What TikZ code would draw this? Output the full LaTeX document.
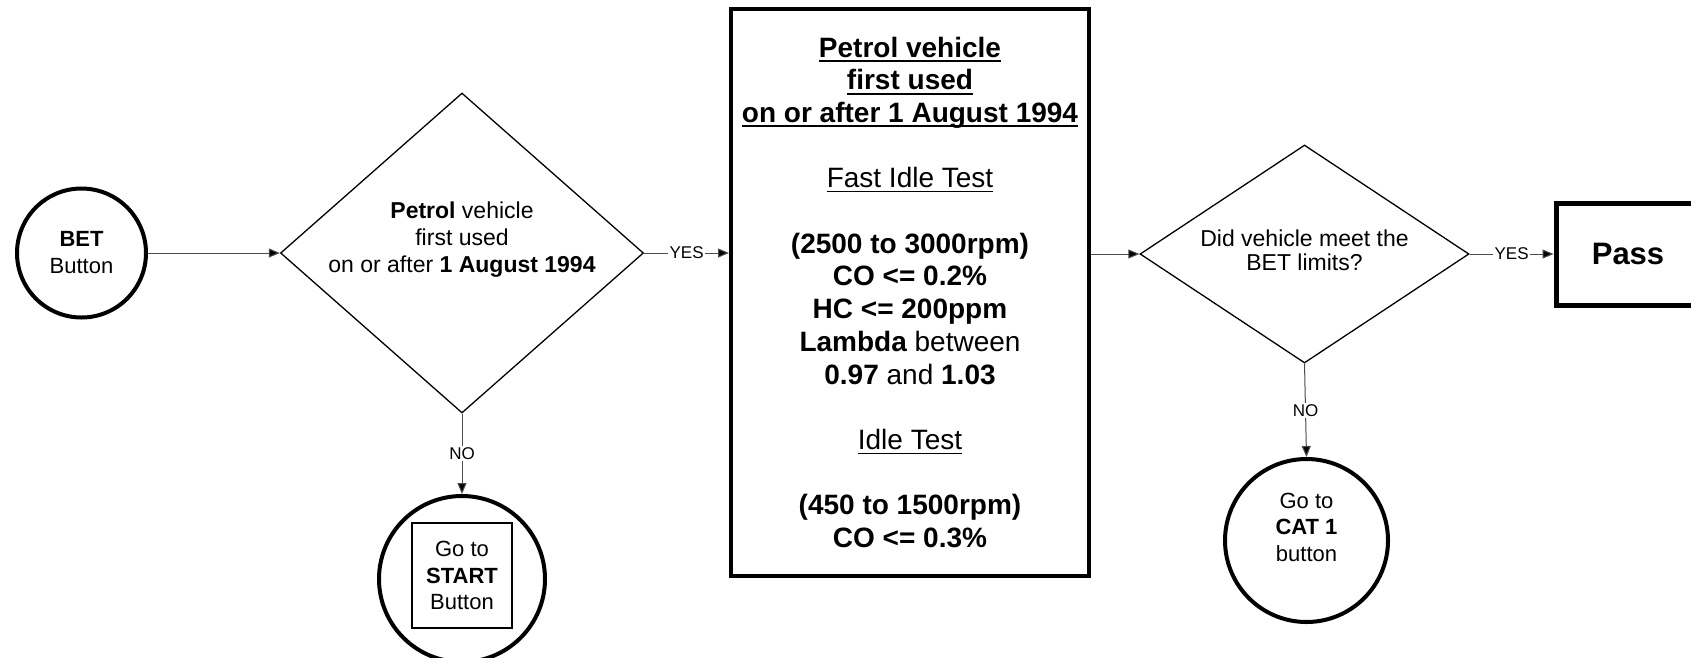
\documentclass[tikz,border=0pt]{standalone}
\usepackage{fontspec}
\setmainfont{Liberation Sans}
\usetikzlibrary{shapes.geometric,arrows.meta}
\newcommand\myul[1]{\setbox0\hbox{#1}\rlap{\rule[-5pt]{\wd0}{2pt}}\box0}
\newcommand\myulthin[1]{\setbox0\hbox{#1}\rlap{\rule[-4.5pt]{\wd0}{1.4pt}}\box0}
\tikzset{
  thickcircle/.style={circle, draw=black, line width=4pt, inner sep=0pt, align=center,
    font=\fontsize{22}{27}\selectfont},
  dia/.style={diamond, draw=black, line width=1.3pt, inner sep=0pt},
  diatext/.style={align=center, inner sep=0pt},
  conn/.style={draw=black!70, line width=1pt, -{Triangle[length=11pt,width=9pt,fill=black]}},
  lbl/.style={fill=white, inner sep=1.5pt, font=\fontsize{17}{17}\selectfont},
}
\begin{document}
\begin{tikzpicture}[x=1pt,y=-1pt]
\useasboundingbox (0,0) rectangle (1691,657);
\clip (0,0) rectangle (1691,657);
\fill[white] (0,0) rectangle (1691,657);

% BET circle
\node[thickcircle, minimum size=129pt] (bet) at (81.5,253) {\textbf{BET}\\Button};

% Diamond 1
\node[dia, minimum width=363pt, minimum height=320pt] (d1) at (462,253) {};
\node[diatext, font=\fontsize{23}{27}\selectfont] (d1t) at (462,240)
  {\textbf{Petrol} vehicle\\first used\\on or after \textbf{1 August 1994}};

% Main box
\node[draw=black, line width=4pt, minimum width=358pt, minimum height=566.5pt,
      inner sep=0pt, align=center, font=\bfseries\fontsize{28}{32.7}\selectfont]
  (box) at (910,292.3)
  {\myul{Petrol vehicle}\\
   \myul{first used}\\
   \myul{on or after 1 August 1994}\\[32.7pt]
   \mdseries\myulthin{Fast Idle Test}\\[32.7pt]
   (2500 to 3000rpm)\\
   CO <= 0.2\%\\
   HC <= 200ppm\\
   Lambda {\mdseries between}\\
   0.97 {\mdseries and} 1.03\\[32.7pt]
   \mdseries\myulthin{Idle Test}\\[32.7pt]
   (450 to 1500rpm)\\
   CO <= 0.3\%};

% Diamond 2
\node[dia, minimum width=329pt, minimum height=218pt] (d2) at (1304.5,254) {};
\node[diatext, font=\fontsize{23}{24}\selectfont] (d2t) at (1304.5,250)
  {Did vehicle meet the\\BET limits?};

% Pass box
\node[draw=black, line width=5pt, minimum width=144pt, minimum height=102pt,
      inner sep=0pt, font=\bfseries\fontsize{31}{31}\selectfont] (pass) at (1628,254) {Pass};

% START circle
\node[thickcircle, minimum size=166pt] (start) at (462,579) {};
\node[draw=black, line width=1.3pt, minimum width=100pt, minimum height=105pt, inner sep=0pt,
      align=center, font=\fontsize{22}{26.5}\selectfont] (startsq) at (462,575.5)
  {Go to\\\textbf{START}\\Button};

% CAT 1 circle
\node[thickcircle, minimum size=163pt] (cat) at (1306.5,540.5) {};
\node[align=center, inner sep=0pt, font=\fontsize{22}{26.5}\selectfont] (catt) at (1306.5,527)
  {Go to\\\textbf{CAT 1}\\button};

% Connectors
\draw[conn] (bet.east) -- (d1.west);
\draw[conn] (d1.east) -- node[lbl] {YES} (d1.east -| box.west);
\draw[conn] (d2.west -| box.east) -- (d2.west);
\draw[conn] (d2.east) -- node[lbl] {YES} (pass.west);
\draw[conn] (d1.south) -- node[lbl] {NO} (start.north);
\draw[conn] (d2.south) -- node[lbl] {NO} (cat.north);
\end{tikzpicture}
\end{document}
